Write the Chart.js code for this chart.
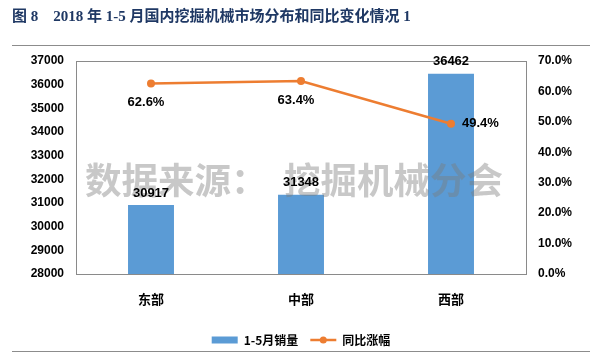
<!DOCTYPE html>
<html><head><meta charset="utf-8">
<script src="https://cdn.jsdelivr.net/npm/chart.js@4/dist/chart.umd.min.js"></script>
<style>html,body{margin:0;padding:0;background:#fff}#wrap{width:600px;height:360px}</style>
</head><body><div id="wrap"><canvas id="c" width="600" height="360"></canvas></div>
<script>
const titleText = '图 8　2018 年 1-5 月国内挖掘机械市场分布和同比变化情况 1';
const categories = ['东部', '中部', '西部'];
const salesLabel = '1-5月销量';
const growthLabel = '同比涨幅';
const sales = [30917, 31348, 36462];
const growth = [62.6, 63.4, 49.4];
const leftMin = 28000, leftMax = 37000, leftStep = 1000;
const rightMin = 0, rightMax = 70, rightStep = 10;
const watermark = '数据来源：  挖掘机械分会';

const SANS = '"Liberation Sans", Arial, "Noto Sans CJK SC", sans-serif';
const CJK = '"Noto Sans CJK SC", "Liberation Sans", sans-serif';
const BAR = '#5B9BD5', LINE = '#ED7D31';

const decor = {
  id: 'decor',
  beforeDraw(chart) {
    const ctx = chart.ctx;
    ctx.save();
    ctx.fillStyle = '#fff';
    ctx.fillRect(0, 0, chart.width, chart.height);
    ctx.strokeStyle = '#8c8c8c';
    ctx.lineWidth = 1.2;
    ctx.beginPath();
    ctx.moveTo(12, 45.5); ctx.lineTo(590, 45.5);
    ctx.moveTo(12, 351.5); ctx.lineTo(590, 351.5);
    ctx.stroke();
    ctx.restore();
  },
  beforeDatasetsDraw(chart) {
    const a = chart.chartArea, ctx = chart.ctx;
    ctx.save();
    ctx.strokeStyle = '#8a8a8a';
    ctx.lineWidth = 1;
    ctx.strokeRect(Math.round(a.left) + 0.5, Math.round(a.top) + 0.5, Math.round(a.right - a.left), Math.round(a.bottom - a.top));
    ctx.restore();
  },
  afterDatasetsDraw(chart) {
    const ctx = chart.ctx;
    ctx.save();
    // watermark
    ctx.font = 'bold 36px ' + CJK;
    const w = ctx.measureText(watermark).width;
    const size = 36 * 418 / w;
    ctx.font = 'bold ' + size.toFixed(1) + 'px ' + CJK;
    ctx.fillStyle = 'rgba(125,125,125,0.42)';
    ctx.textBaseline = 'middle';
    ctx.textAlign = 'left';
    ctx.fillText(watermark, 85, 180);
    // bar labels
    const bm = chart.getDatasetMeta(1);
    ctx.fillStyle = '#000';
    ctx.font = 'bold 13px ' + SANS;
    ctx.textAlign = 'center';
    bm.data.forEach((el, i) => {
      ctx.fillText(String(sales[i]), el.x, el.y - 12);
    });
    // line labels
    const lm = chart.getDatasetMeta(0);
    lm.data.forEach((el, i) => {
      const txt = growth[i].toFixed(1) + '%';
      if (i === growth.length - 1) {
        ctx.textAlign = 'left';
        ctx.fillText(txt, el.x + 11, el.y);
      } else {
        ctx.textAlign = 'center';
        ctx.fillText(txt, el.x - 5, el.y + 19);
      }
    });
    ctx.restore();
  },
  afterDraw(chart) {
    const lg = chart.legend;
    if (!lg || !lg.legendHitBoxes) return;
    const hb = lg.legendHitBoxes[1];
    if (!hb) return;
    const ctx = chart.ctx;
    const cy = hb.top + hb.height / 2;
    ctx.save();
    ctx.strokeStyle = LINE;
    ctx.lineWidth = 2.5;
    ctx.beginPath();
    ctx.moveTo(hb.left, cy); ctx.lineTo(hb.left + 26, cy);
    ctx.stroke();
    ctx.fillStyle = LINE;
    ctx.beginPath();
    ctx.arc(hb.left + 13, cy, 3.5, 0, Math.PI * 2);
    ctx.fill();
    ctx.restore();
  }
};

new Chart(document.getElementById('c'), {
  data: {
    labels: categories,
    datasets: [
      {
        type: 'line', label: growthLabel, data: growth, yAxisID: 'y1', order: 0,
        borderColor: LINE, backgroundColor: LINE, borderWidth: 2.5,
        pointRadius: 4, pointBackgroundColor: LINE, pointBorderWidth: 0, tension: 0
      },
      {
        type: 'bar', label: salesLabel, data: sales, yAxisID: 'y', order: 1,
        backgroundColor: BAR, borderWidth: 0,
        categoryPercentage: 0.8, barPercentage: 0.383
      }
    ]
  },
  options: {
    responsive: false,
    devicePixelRatio: 1,
    animation: false,
    layout: { padding: { left: 12, right: 10, top: 0, bottom: 4 } },
    plugins: {
      title: {
        display: true, text: titleText, align: 'start', color: '#1F3864',
        font: { family: '"Liberation Serif", "Noto Sans CJK SC", serif', size: 15, weight: 'bold' },
        padding: { top: 8, bottom: 35 }
      },
      legend: {
        position: 'bottom',
        labels: {
          color: '#000', boxWidth: 26, boxHeight: 7, padding: 12,
          font: { family: CJK, size: 12, weight: 'bold' },
          generateLabels(chart) {
            const items = Chart.defaults.plugins.legend.labels.generateLabels(chart);
            items.sort((p, q) => q.datasetIndex - p.datasetIndex);
            items.forEach(it => {
              if (it.datasetIndex === 0) {
                it.fillStyle = 'rgba(0,0,0,0)';
                it.strokeStyle = 'rgba(0,0,0,0)';
              }
              it.lineWidth = 0;
            });
            return items;
          }
        }
      },
      tooltip: { enabled: false }
    },
    scales: {
      x: {
        grid: { display: false, drawTicks: false },
        border: { display: false },
        ticks: { color: '#000', padding: 17, font: { family: CJK, size: 13, weight: 'bold' } },
        afterFit(s) { s.height = 48; }
      },
      y: {
        position: 'left', min: leftMin, max: leftMax,
        grid: { display: false, drawTicks: false },
        border: { display: false },
        ticks: { stepSize: leftStep, color: '#000', padding: 12, font: { family: SANS, size: 12, weight: 'bold' },
          callback: v => String(v) },
        afterFit(s) { s.width = 64; }
      },
      y1: {
        position: 'right', min: rightMin, max: rightMax,
        grid: { display: false, drawTicks: false },
        border: { display: false },
        ticks: { stepSize: rightStep, color: '#000', padding: 12, font: { family: SANS, size: 12, weight: 'bold' },
          callback: v => Number(v).toFixed(1) + '%' },
        afterFit(s) { s.width = 64; }
      }
    }
  },
  plugins: [decor]
});
</script>
</body></html>
